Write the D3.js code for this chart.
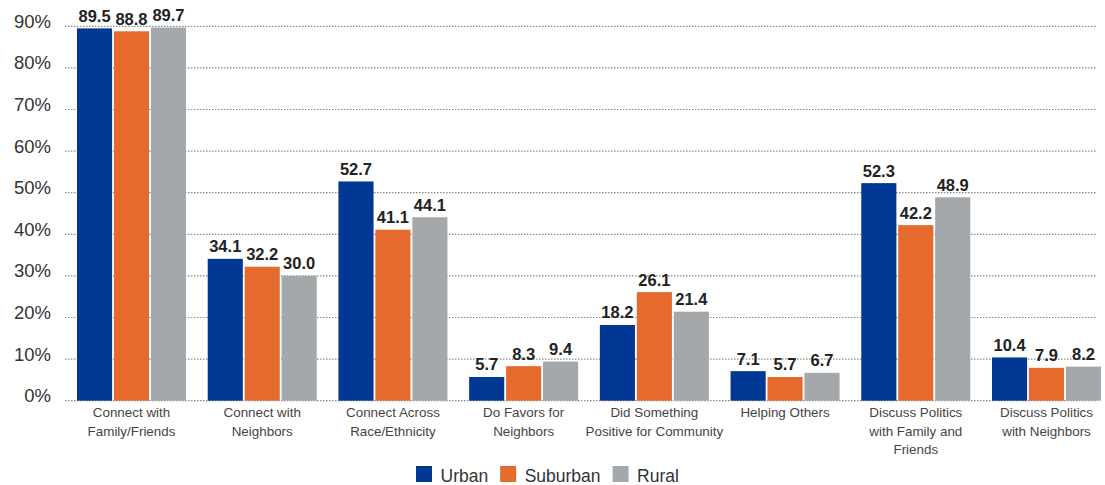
<!DOCTYPE html>
<html>
<head>
<meta charset="utf-8">
<script src="https://cdn.jsdelivr.net/npm/d3@7"></script>
<style>
  html, body { margin: 0; padding: 0; background: #fff; }
  svg { display: block; font-family: "Liberation Sans", Arial, sans-serif; }
</style>
</head>
<body>
<svg id="chart" width="1105" height="485"></svg>
<script>
const categories = [
  ["Connect with", "Family/Friends"],
  ["Connect with", "Neighbors"],
  ["Connect Across", "Race/Ethnicity"],
  ["Do Favors for", "Neighbors"],
  ["Did Something", "Positive for Community"],
  ["Helping Others"],
  ["Discuss Politics", "with Family and", "Friends"],
  ["Discuss Politics", "with Neighbors"]
];
const seriesNames = ["Urban", "Suburban", "Rural"];
const urban    = [89.5, 34.1, 52.7, 5.7, 18.2, 7.1, 52.3, 10.4];
const suburban = [88.8, 32.2, 41.1, 8.3, 26.1, 5.7, 42.2, 7.9];
const rural    = [89.7, 30.0, 44.1, 9.4, 21.4, 6.7, 48.9, 8.2];
const yTicks = [0, 10, 20, 30, 40, 50, 60, 70, 80, 90];
const colors = ["#003893", "#e66a2e", "#a5a8ab"];

const seriesValues = [urban, suburban, rural];
const catKeys = categories.map(c => c.join(" "));
const rows = catKeys.map((k, i) => ({
  key: k,
  lines: categories[i],
  values: seriesNames.map((s, j) => ({ series: s, value: seriesValues[j][i] }))
}));

const svg = d3.select("#chart");

const y = d3.scaleLinear().domain([0, 90]).range([400.7, 26.3]);
const x0 = d3.scaleBand().domain(catKeys).range([77, 1101]).paddingInner(0.166).paddingOuter(0);
const x1 = d3.scaleBand().domain(seriesNames).range([0, x0.bandwidth()]).paddingInner(0.05);
const color = d3.scaleOrdinal().domain(seriesNames).range(colors);

// gridlines
svg.append("g").selectAll("line").data(yTicks).join("line")
  .attr("x1", 65).attr("x2", 1096)
  .attr("y1", d => y(d)).attr("y2", d => y(d))
  .attr("stroke", "#8a8a8a").attr("stroke-width", 1.2)
  .attr("stroke-dasharray", "1.5,1.5");

// y axis labels
const yAxis = svg.append("g").attr("transform", "translate(65,0)")
  .call(d3.axisLeft(y).tickValues(yTicks).tickFormat(d => d + "%").tickSize(0).tickPadding(14));
yAxis.select(".domain").remove();
yAxis.selectAll("text")
  .attr("dy", null).attr("y", 1)
  .attr("font-size", "18.5px").attr("fill", "#333")
  .attr("font-family", "'Liberation Sans', Arial, sans-serif");

// bars
const groups = svg.append("g").selectAll("g").data(rows).join("g")
  .attr("transform", d => `translate(${x0(d.key)},0)`);

groups.selectAll("rect").data(d => d.values).join("rect")
  .attr("x", d => x1(d.series))
  .attr("width", x1.bandwidth())
  .attr("y", d => y(d.value))
  .attr("height", d => y(0) - y(d.value))
  .attr("fill", d => color(d.series));

groups.selectAll("text.val").data(d => d.values).join("text")
  .attr("class", "val")
  .attr("x", d => x1(d.series) + x1.bandwidth() / 2)
  .attr("y", d => y(d.value) - 6.5)
  .attr("text-anchor", "middle")
  .attr("font-size", "16.5px").attr("font-weight", "bold").attr("fill", "#222")
  .text(d => d.value.toFixed(1));

// category axis
const xAxis = svg.append("g").attr("transform", `translate(0,${y(0)})`)
  .call(d3.axisBottom(x0).tickSize(0).tickFormat(""));
xAxis.select(".domain").remove();
xAxis.selectAll(".tick").each(function(d, i) {
  const t = d3.select(this).append("text")
    .attr("text-anchor", "middle")
    .attr("font-size", "13.4px").attr("fill", "#444")
    .attr("font-family", "'Liberation Sans', Arial, sans-serif");
  t.selectAll("tspan").data(rows[i].lines).join("tspan")
    .attr("x", 0)
    .attr("y", (l, k) => 16.8 + k * 18.5)
    .text(l => l);
});

// legend
const legend = svg.append("g");
let lx = 416;
seriesNames.forEach((s, i) => {
  const g = legend.append("g");
  g.append("rect").attr("x", lx).attr("y", 466).attr("width", 16).attr("height", 16).attr("fill", color(s));
  const t = g.append("text").attr("x", lx + 24.5).attr("y", 481.7)
    .attr("font-size", "17.5px").attr("fill", "#333").text(s);
  lx = lx + 24.5 + t.node().getComputedTextLength() + 12;
});
</script>
</body>
</html>
